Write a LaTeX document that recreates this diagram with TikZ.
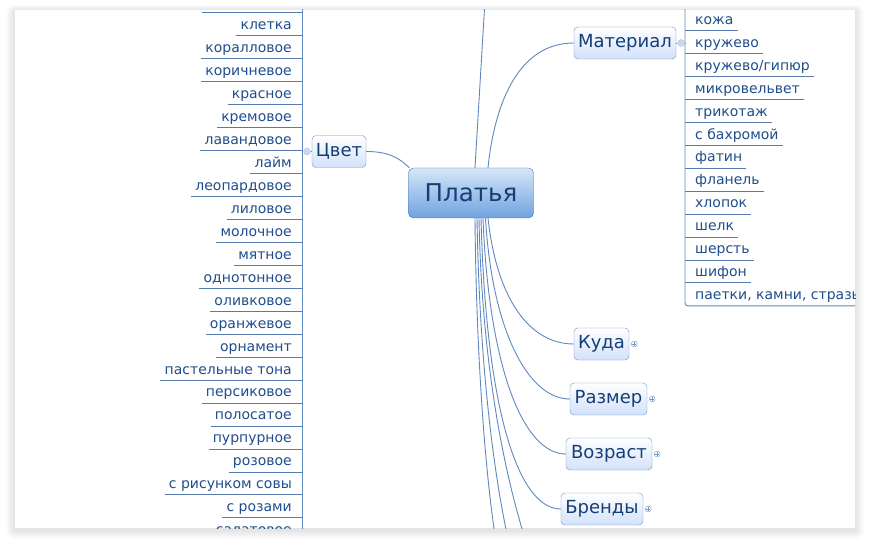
\documentclass[tikz,border=0pt]{standalone}
\usepackage{fontspec}
\setmainfont{DejaVu Sans}
\usepackage{tikz}
\definecolor{ink}{HTML}{143E78}
\definecolor{leafink}{HTML}{1F4E8C}
\definecolor{branch}{HTML}{5F88C0}
\definecolor{roottop}{HTML}{D6E6F8}
\definecolor{rootbottom}{HTML}{6FA2DF}
\definecolor{rootborder}{HTML}{3F72B3}
\definecolor{topicbottom}{HTML}{D2E1FA}
\definecolor{topicborder}{HTML}{7393C4}
\definecolor{knob}{HTML}{C6D9F1}

\begin{document}
\begin{tikzpicture}[x=1pt,y=-1pt,
    root/.style={draw=rootborder, rounded corners=5pt, top color=roottop, bottom color=rootbottom, minimum width=125pt, minimum height=50pt, text=ink, font=\fontsize{24.5}{28}\selectfont},
    topic/.style={draw=topicborder, rounded corners=4pt, top color=white, bottom color=topicbottom, minimum height=32pt, inner xsep=2pt, text=ink, font=\fontsize{18}{21}\selectfont},
    leaf/.style={inner xsep=4pt, inner ysep=3pt, text height=10pt, text depth=3pt, text=leafink, font=\fontsize{14}{16}\selectfont},
    link/.style={draw=branch, line width=0.9pt},
    twig/.style={draw=branch!90!black, line width=1pt},
    collapser/.style={circle, draw=knob!80!branch, fill=knob, minimum size=7pt, inner sep=0pt},
    expander/.style={circle, draw=topicborder, fill=white, minimum size=6pt, inner sep=0pt,
        path picture={\draw[topicborder, line width=0.5pt] ([xshift=-1.8pt]path picture bounding box.center) -- ([xshift=1.8pt]path picture bounding box.center) ([yshift=-1.8pt]path picture bounding box.center) -- ([yshift=1.8pt]path picture bounding box.center);}}]
    \useasboundingbox (0,0) rectangle (870,548);
    \fill[white] (0,0) rectangle (870,548);
    \foreach \s in {1,...,9}{
        \fill[black, opacity=0.011, rounded corners=\s pt] ({15-\s},{11-0.7*\s}) rectangle ({855+\s},{530+\s});
    }
    \fill[white] (15,10) rectangle (855,528);
    \begin{scope}
        \clip (15,10) rectangle (855,528);
        \node[root] (dress) at (471,193) {Платья};
        \node[topic, minimum width=54pt] (color) at (339,151.5) {Цвет};
        \node[topic, minimum width=102pt] (material) at (625,43) {Материал};
        \node[topic, minimum width=55pt] (where) at (601.5,344) {Куда};
        \node[topic, minimum width=77pt] (size) at (608.5,399) {Размер};
        \node[topic, minimum width=86pt] (age) at (609,454) {Возраст};
        \node[topic, minimum width=82pt] (brand) at (602,509) {Бренды};
        \coordinate (trunkL) at (302,0);
        \coordinate (trunkLend) at (302,548);
        \coordinate (trunkR) at (685,0);
        \coordinate (up) at (485,0);
        \coordinate (down1) at (497,548);
        \coordinate (down2) at (510,548);
        \coordinate (down3) at (528,548);
        \coordinate (l0) at (202,13);

        \draw[link] (color.east) .. controls +(22,0) and +(-10,-10) .. ([xshift=1pt]dress.north west);
        \draw[link] ([xshift=17pt]dress.north) .. controls (495,100) and (520,43) .. (material.west);
        \draw[link] ([xshift=4pt]dress.north) -- (up);
        \draw[link] ([xshift=17pt]dress.south) .. controls (497,300) and (530,344) .. (where.west);
        \draw[link] ([xshift=14.5pt]dress.south) .. controls (492,330) and (528,399) .. (size.west);
        \draw[link] ([xshift=12pt]dress.south) .. controls (489,370) and (524,454) .. (age.west);
        \draw[link] ([xshift=10pt]dress.south) .. controls (486,410) and (518,509) .. (brand.west);
        \draw[link] ([xshift=4pt]dress.south) .. controls (476,340) and (484,470) .. (down1);
        \draw[link] ([xshift=6pt]dress.south) .. controls (479,340) and (490,460) .. (down2);
        \draw[link] ([xshift=8pt]dress.south) .. controls (481,330) and (496,450) .. (down3);

        \draw[link] (trunkL) -- (trunkLend);
        \draw[twig] (l0) -- (l0 -| trunkL);
        \foreach \t [count=\i] in {клетка, коралловое, коричневое, красное, кремовое, лавандовое, лайм, леопардовое, лиловое, молочное, мятное, однотонное, оливковое, оранжевое, орнамент, пастельные тона, персиковое, полосатое, пурпурное, розовое, с рисунком совы, с розами, салатовое}{
            \node[leaf, anchor=south east] (l\i) at (296,{13+22.95*\i}) {\t};
            \draw[twig] (l\i.south west) -- (l\i.south west -| trunkL);
        }
        \foreach \t [count=\i] in {кожа, кружево, кружево/гипюр, микровельвет, трикотаж, с бахромой, фатин, фланель, хлопок, шелк, шерсть, шифон, {паетки, камни, стразы}}{
            \node[leaf, anchor=south west] (r\i) at (691,{7.55+22.95*\i}) {\t};
        }
        \draw[link, rounded corners=3pt] (trunkR) -- (trunkR |- r13.south west) -- (r13.south east);
        \foreach \i in {1,...,12}{
            \draw[twig] (r\i.south west -| trunkR) -- (r\i.south east);
        }

        \node[collapser] (colorknob) at (307,151.5) {};
        \node[collapser] (materialknob) at (681,43) {};
        \draw[link] (color.west) -- (colorknob);
        \draw[link] (colorknob) -- (colorknob -| trunkL);
        \draw[link] (material.east) -- (materialknob);
        \draw[link] (materialknob) -- (materialknob -| trunkR);
        \node[expander] (wherex) at ([xshift=5pt]where.east) {};
        \node[expander] (sizex) at ([xshift=5pt]size.east) {};
        \node[expander] (agex) at ([xshift=5pt]age.east) {};
        \node[expander] (brandx) at ([xshift=5pt]brand.east) {};
    \end{scope}
\end{tikzpicture}
\end{document}
